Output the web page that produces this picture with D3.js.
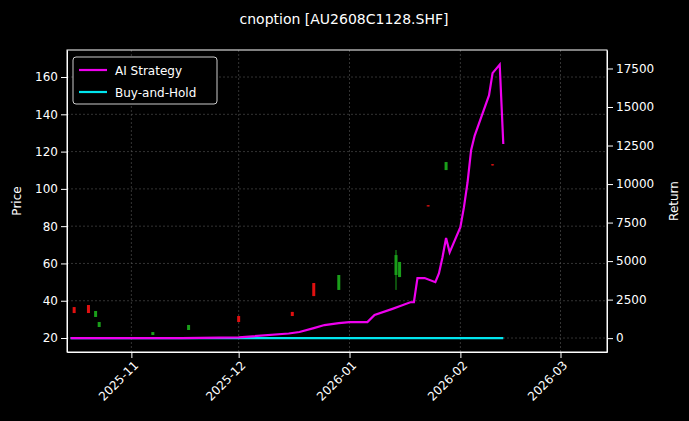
<!DOCTYPE html><html><head><meta charset="utf-8"><script src="https://cdn.jsdelivr.net/npm/d3@7"></script>
<style>body{margin:0;background:#000}svg{font-family:"DejaVu Sans",sans-serif}</style></head><body><svg id="c" width="689" height="421"></svg><script>
const stratDates=["2025-10-15","2025-11-15","2025-12-01","2025-12-15","2025-12-18","2025-12-22","2025-12-25","2025-12-29","2026-01-01","2026-01-06","2026-01-08","2026-01-13","2026-01-15","2026-01-18","2026-01-19","2026-01-20","2026-01-22","2026-01-25","2026-01-26","2026-01-27","2026-01-28","2026-01-29","2026-02-01","2026-02-02","2026-02-03","2026-02-04","2026-02-05","2026-02-09","2026-02-10","2026-02-12","2026-02-13"];
const stratVals=[0,0,50,300,400,650,850,970,1040,1040,1500,1900,2070,2330,2330,3900,3900,3630,4200,5250,6500,5570,7200,8500,10100,12200,13150,15750,17200,17750,12600];
const bhDates=["2025-10-15","2026-02-13"];
const bhVals=[0,0];
const candleDates=["2025-10-16","2025-10-20","2025-10-22","2025-10-23","2025-11-07","2025-11-17","2025-12-01","2025-12-16","2025-12-22","2025-12-29","2026-01-14","2026-01-15","2026-01-23","2026-01-28","2026-02-10"];
const candleOpen=[36.6,37.7,31.3,25.9,21.6,24.3,31.8,34,49.5,45.8,53.8,52.7,91.2,110.1,113.2];
const candleClose=[33.4,33.4,34.5,28.6,23.2,27,28.6,31.8,42.5,53.8,64.5,60.8,90.6,114.4,112.6];
const candleHigh=[36.6,37.7,34.5,28.6,23.2,27,31.8,34,49.5,53.8,67.2,60.8,91.2,114.4,113.2];
const candleLow=[33.4,33.4,31.3,25.9,21.6,24.3,28.6,31.8,42.5,45.8,45.8,52.7,90.6,110.1,112.6];
const priceTicks=[20,40,60,80,100,120,140,160];
const retTicks=[0,2500,5000,7500,10000,12500,15000,17500];
const p=d3.timeParse("%Y-%m-%d");
const svg=d3.select("#c");
const L=67,R=607,T=50,B=352;
const x=d3.scaleTime().domain([p("2025-10-14"),p("2026-03-14")]).range([L,R]);
const yP=d3.scaleLinear().domain([12.5,174.5]).range([B,T]);
const yR=d3.scaleLinear().domain([-900,18700]).range([B,T]);
const g=svg.append("g");
const xt=[p("2025-11-01"),p("2025-12-01"),p("2026-01-01"),p("2026-02-01"),p("2026-03-01")];
g.selectAll(".gx").data(xt).join("line").attr("x1",d=>x(d)).attr("x2",d=>x(d)).attr("y1",T).attr("y2",B).attr("stroke","#555").attr("stroke-dasharray","2,2").attr("stroke-width",0.6);
g.selectAll(".gy").data(priceTicks).join("line").attr("x1",L).attr("x2",R).attr("y1",d=>yP(d)).attr("y2",d=>yP(d)).attr("stroke","#555").attr("stroke-dasharray","2,2").attr("stroke-width",0.6);
const cw=3;
candleDates.forEach((d,i)=>{const c=candleClose[i]>=candleOpen[i]?"#1a9e1a":"#e01010";const xx=x(p(d));
g.append("line").attr("x1",xx).attr("x2",xx).attr("y1",yP(candleHigh[i])).attr("y2",yP(candleLow[i])).attr("stroke",c);
g.append("rect").attr("x",xx-cw/2).attr("width",cw).attr("y",yP(Math.max(candleOpen[i],candleClose[i]))).attr("height",Math.max(1,Math.abs(yP(candleOpen[i])-yP(candleClose[i])))).attr("fill",c);});
const line=d3.line().x(d=>x(p(d[0]))).y(d=>yR(d[1]));
g.append("path").attr("d",line(bhDates.map((d,i)=>[d,bhVals[i]]))).attr("stroke","#00e5ee").attr("stroke-width",2.2).attr("fill","none");
g.append("path").attr("d",line(stratDates.map((d,i)=>[d,stratVals[i]]))).attr("stroke","#ee00ee").attr("stroke-width",2.2).attr("fill","none");
const ax=svg.append("g").attr("transform",`translate(0,${B})`).call(d3.axisBottom(x).tickValues(xt).tickFormat(d3.timeFormat("%Y-%m")).tickSizeOuter(0));
ax.selectAll("text").attr("transform","rotate(-45)").attr("text-anchor","end").attr("dx","-0.4em").attr("dy","0.5em");
const al=svg.append("g").attr("transform",`translate(${L},0)`).call(d3.axisLeft(yP).tickValues(priceTicks).tickSizeOuter(0));
const ar=svg.append("g").attr("transform",`translate(${R},0)`).call(d3.axisRight(yR).tickValues(retTicks).tickFormat(d3.format("d")).tickSizeOuter(0));
svg.append("rect").attr("x",L).attr("y",T).attr("width",R-L).attr("height",B-T).attr("fill","none").attr("stroke","#fff");
[ax,al,ar].forEach(a=>{a.selectAll("path").attr("stroke","#fff");a.selectAll("line").attr("stroke","#fff");a.selectAll("text").attr("fill","#fff").attr("font-size",12).style("font-family","DejaVu Sans");});
svg.append("text").attr("x",344).attr("y",24).attr("text-anchor","middle").attr("fill","#fff").attr("font-size",14).text("cnoption [AU2608C1128.SHF]");
svg.append("text").attr("transform","translate(21,201) rotate(-90)").attr("text-anchor","middle").attr("fill","#fff").attr("font-size",12).text("Price");
svg.append("text").attr("transform","translate(678,201) rotate(-90)").attr("text-anchor","middle").attr("fill","#fff").attr("font-size",12).text("Return");
const lg=svg.append("g");
lg.append("rect").attr("x",73).attr("y",57).attr("width",144).attr("height",47).attr("rx",3).attr("fill","#000").attr("stroke","#ccc");
[["AI Strategy","#ee00ee"],["Buy-and-Hold","#00e5ee"]].forEach((d,i)=>{const yy=70+i*22;
lg.append("line").attr("x1",79).attr("x2",107).attr("y1",yy).attr("y2",yy).attr("stroke",d[1]).attr("stroke-width",2.2);
lg.append("text").attr("x",115).attr("y",yy+4.5).attr("fill","#fff").attr("font-size",12).text(d[0]);});
</script></body></html>
